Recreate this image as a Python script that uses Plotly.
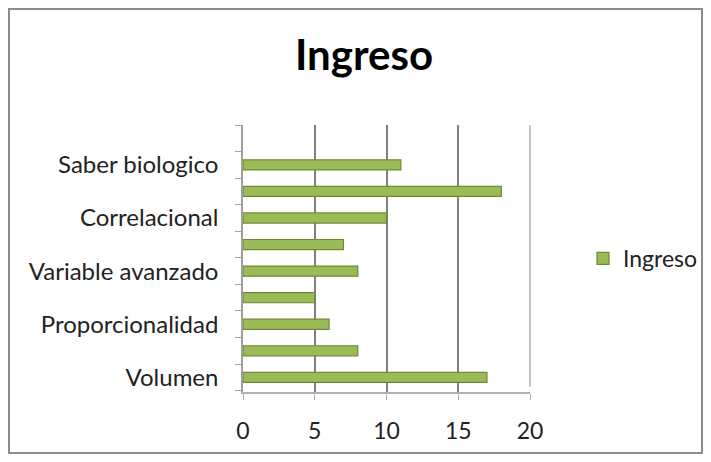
import plotly.graph_objects as go

categories = ["Volumen", "Cat 2", "Proporcionalidad", "Cat 4", "Variable avanzado",
              "Cat 6", "Correlacional", "Cat 8", "Saber biologico"]
tick_labels = ["Volumen", "", "Proporcionalidad", "", "Variable avanzado",
               "", "Correlacional", "", "Saber biologico"]
values = [17, 8, 6, 5, 8, 7, 10, 18, 11]
series_name = "Ingreso"
x_ticks = [0, 5, 10, 15, 20]

OFF = 8  # page offset of the figure (body margin)
W, H = 711 - 2 * OFF, 462 - 2 * OFF
L = 243 - OFF
T = 125 - OFF
R = W - (530 - OFF)
B = H - (392 - OFF)
PW, PH = W - L - R, H - T - B

positions = list(range(len(categories)))

fig = go.Figure()
fig.add_trace(go.Bar(
    x=values, y=positions, orientation="h", name=series_name,
    width=0.38,
    marker=dict(color="#9bbb59", line=dict(color="#6e8b31", width=1.2)),
    hovertext=categories,
))

font_fam = "Lato, 'Open Sans', sans-serif"
fig.update_layout(
    width=W, height=H,
    margin=dict(l=L, r=R, t=T, b=B, autoexpand=False),
    paper_bgcolor="white", plot_bgcolor="white",
    title=dict(text="<b>Ingreso</b>", x=(364 - OFF) / W, xanchor="center",
               y=1 - (55 - OFF) / H, yanchor="middle",
               font=dict(family=font_fam, size=42, color="black")),
    font=dict(family=font_fam, size=24, color="#222"),
    showlegend=True,
    legend=dict(x=(583 - OFF - L) / PW, xanchor="left", y=0.5, yanchor="middle",
                font=dict(size=23, color="#222"), bgcolor="rgba(0,0,0,0)"),
)
fig.update_xaxes(range=[0, 20], tickvals=x_ticks, showgrid=True,
                 gridcolor="#808080", gridwidth=1.5, showline=True,
                 linecolor="#b0b0b0", linewidth=1.5, ticks="outside",
                 ticklen=6, tickcolor="#b0b0b0", zeroline=False,
                 ticklabelstandoff=12, automargin=False,
                 tickfont=dict(size=23, color="#222"), mirror=False)
fig.update_yaxes(range=[-0.55, 9.5], tickvals=positions, ticktext=tick_labels,
                 showgrid=False, showline=True, linecolor="#a0a0a0",
                 linewidth=1.5, ticks="", zeroline=False, ticklabelstandoff=18,
                 automargin=False,
                 tickfont=dict(size=24, color="#222"),
                 minor=dict(tickmode="linear", tick0=-0.5, dtick=1,
                            ticks="outside", ticklen=6, tickcolor="#a0a0a0",
                            showgrid=False))
# right wall edge
fig.add_shape(type="line", xref="paper", yref="paper", x0=1.0, x1=1.0, y0=0.02, y1=1.0,
              line=dict(color="#b0b0b0", width=1.5))
# outer chart border
fig.add_shape(type="rect", xref="paper", yref="paper",
              x0=(1 - L) / PW, x1=(W - 1 - L) / PW,
              y0=-(B - 1) / PH,
              y1=1 + (T - 1) / PH,
              line=dict(color="#8c8c8c", width=2), layer="below")

fig.write_html("out.html")
